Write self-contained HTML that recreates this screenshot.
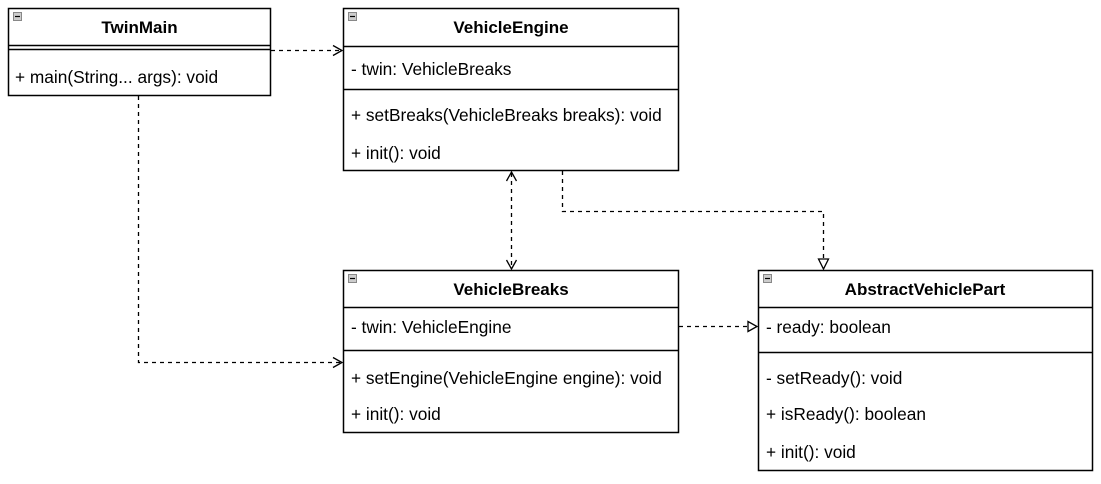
<!DOCTYPE html>
<html><head><meta charset="utf-8"><style>
body{margin:0;background:#fff;}
text{font-family:"Liberation Sans",Arial,sans-serif;font-size:17.3px;fill:#000;}
.t{font-weight:bold;font-size:17px;}
</style></head><body>
<svg width="1101" height="479" viewBox="0 0 1101 479" xmlns="http://www.w3.org/2000/svg">
<g fill="#fff" stroke="#000" stroke-width="1.5">
<rect x="8.5" y="8.5" width="262" height="87"/>
<line x1="8" y1="45.5" x2="271" y2="45.5"/><line x1="8" y1="49.5" x2="271" y2="49.5"/>
<rect x="343.5" y="8.5" width="335" height="162"/>
<line x1="343" y1="46.5" x2="679" y2="46.5"/><line x1="343" y1="89.5" x2="679" y2="89.5"/>
<rect x="343.5" y="270.5" width="335" height="162"/>
<line x1="343" y1="307.5" x2="679" y2="307.5"/><line x1="343" y1="350.5" x2="679" y2="350.5"/>
<rect x="758.5" y="270.5" width="334" height="200"/>
<line x1="758" y1="307.5" x2="1093" y2="307.5"/><line x1="758" y1="352.5" x2="1093" y2="352.5"/>
</g>
<g fill="#ccc" stroke="#888" stroke-width="1">
<rect x="13.5" y="12.5" width="8" height="8"/><rect x="348.5" y="12.5" width="8" height="8"/>
<rect x="348.5" y="274.5" width="8" height="8"/><rect x="763.5" y="274.5" width="8" height="8"/>
</g>
<g stroke="#000" stroke-width="1.2"><line x1="15" y1="16.5" x2="20" y2="16.5"/><line x1="350" y1="16.5" x2="355" y2="16.5"/><line x1="350" y1="278.5" x2="355" y2="278.5"/><line x1="765" y1="278.5" x2="770" y2="278.5"/></g>
<text class="t" x="139.5" y="33" text-anchor="middle">TwinMain</text>
<text x="15" y="83">+ main(String... args): void</text>
<text class="t" x="511" y="33" text-anchor="middle">VehicleEngine</text>
<text x="351" y="75">- twin: VehicleBreaks</text>
<text x="351" y="121">+ setBreaks(VehicleBreaks breaks): void</text>
<text x="351" y="159">+ init(): void</text>
<text class="t" x="511" y="295" text-anchor="middle">VehicleBreaks</text>
<text x="351" y="333">- twin: VehicleEngine</text>
<text x="351" y="384">+ setEngine(VehicleEngine engine): void</text>
<text x="351" y="420">+ init(): void</text>
<text class="t" x="925" y="295" text-anchor="middle">AbstractVehiclePart</text>
<text x="766" y="333">- ready: boolean</text>
<text x="766" y="384">- setReady(): void</text>
<text x="766" y="420">+ isReady(): boolean</text>
<text x="766" y="458">+ init(): void</text>
<g fill="none" stroke="#000" stroke-width="1.3" stroke-dasharray="4,4">
<line x1="271" y1="50.5" x2="341" y2="50.5"/>
<polyline points="138.5,96 138.5,362.5 341,362.5"/>
<line x1="511.5" y1="173" x2="511.5" y2="268"/>
<polyline points="562.5,171 562.5,211.5 823.5,211.5 823.5,259"/>
<line x1="679" y1="326.5" x2="748" y2="326.5"/>
</g>
<g fill="none" stroke="#000" stroke-width="1.3">
<polyline points="333,45.5 342,50.5 333,55.5"/>
<polyline points="333,357.5 342,362.5 333,367.5"/>
<polyline points="506.5,181 511.5,172 516.5,181"/>
<polyline points="506.5,260 511.5,269 516.5,260"/>
<polygon points="818.5,259 828.5,259 823.5,269" fill="#fff"/>
<polygon points="748,321.5 748,331.5 757,326.5" fill="#fff"/>
</g>
</svg>
</body></html>
